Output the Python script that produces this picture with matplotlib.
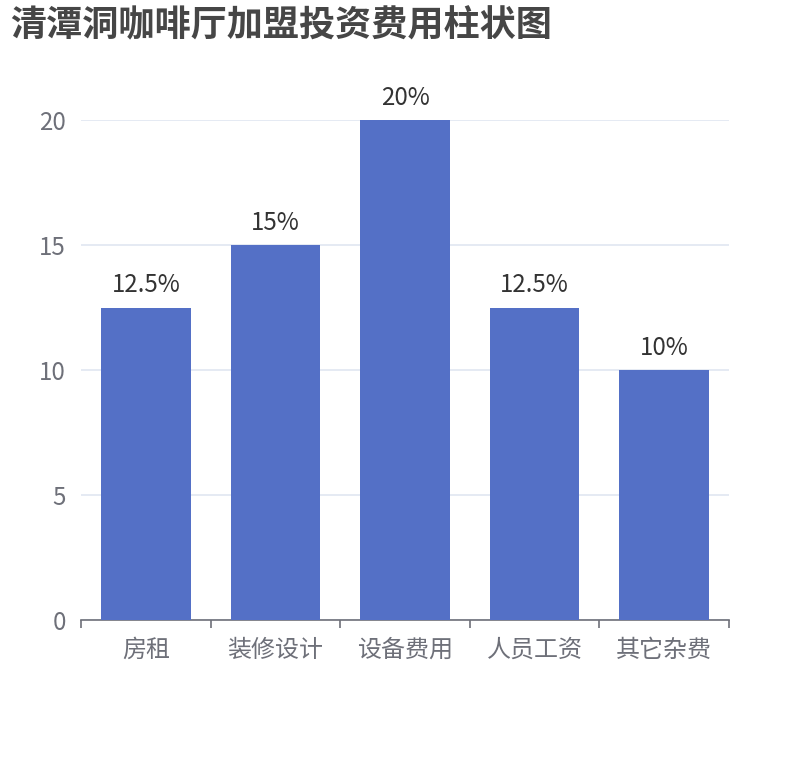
import matplotlib
matplotlib.use("Agg")
import matplotlib.pyplot as plt

plt.rcParams["font.family"] = ["Noto Sans CJK SC", "DejaVu Sans"]

categories = ["房租", "装修设计", "设备费用", "人员工资", "其它杂费"]
values = [12.5, 15, 20, 12.5, 10]
labels = ["12.5%", "15%", "20%", "12.5%", "10%"]
yticks = [0, 5, 10, 15, 20]

fig = plt.figure(figsize=(8.1, 7.6), dpi=100)
ax = fig.add_axes([0.1, 1 - 620 / 760, 0.8, 500 / 760])

x = list(range(len(categories)))
bars = ax.bar(x, values, width=0.69, color="#5470c6", zorder=3)
for rect, lab in zip(bars, labels):
    ax.annotate(lab, (rect.get_x() + rect.get_width() / 2, rect.get_height()),
                xytext=(0, 6.5), textcoords="offset points", ha="center", va="bottom",
                fontsize=17.3, color="#333333")

ax.set_xlim(-0.5, len(categories) - 0.5)
ax.set_ylim(0, 20)
ax.set_yticks(yticks)
ax.set_yticklabels([str(v) for v in yticks])
ax.yaxis.grid(True, color="#e0e6f1", linewidth=1.2, zorder=0)
ax.tick_params(axis="y", length=0, pad=11, labelsize=17.3, labelcolor="#6e7079")

ax.set_xticks(x)
ax.set_xticklabels(categories)
ax.set_xticks([i - 0.5 for i in range(len(categories) + 1)], minor=True)
ax.tick_params(axis="x", which="major", length=0, pad=12, labelsize=17.3, labelcolor="#6e7079")
ax.tick_params(axis="x", which="minor", length=6, width=1.2, color="#6e7079")

for side in ["top", "right", "left"]:
    ax.spines[side].set_visible(False)
ax.spines["bottom"].set_color("#6e7079")
ax.spines["bottom"].set_linewidth(1.2)

fig.text(10 / 810, 1 - 26 / 760, "清潭洞咖啡厅加盟投资费用柱状图", fontsize=26,
         fontweight="bold", color="#464646", va="center", ha="left")

fig.savefig("out.png", dpi=100)
